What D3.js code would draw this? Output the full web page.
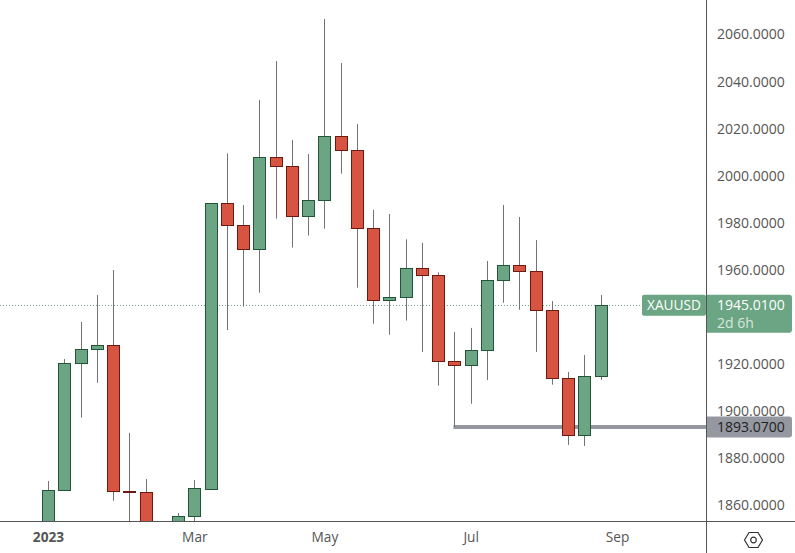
<!DOCTYPE html>
<html><head><meta charset="utf-8">
<script src="https://cdn.jsdelivr.net/npm/d3@7"></script>
<style>html,body{margin:0;padding:0;background:#fff;overflow:hidden}svg{display:block}text{font-family:"Open Sans",sans-serif}</style>
</head><body><svg id="c" width="795" height="553"></svg>
<script>
const weeks=["2023-01-02","2023-01-09","2023-01-16","2023-01-23","2023-01-30","2023-02-06","2023-02-13","2023-02-20","2023-02-27","2023-03-06","2023-03-13","2023-03-20","2023-03-27","2023-04-03","2023-04-10","2023-04-17","2023-04-24","2023-05-01","2023-05-08","2023-05-15","2023-05-22","2023-05-29","2023-06-05","2023-06-12","2023-06-19","2023-06-26","2023-07-03","2023-07-10","2023-07-17","2023-07-24","2023-07-31","2023-08-07","2023-08-14","2023-08-21","2023-08-28"];
const opens=[1824,1866.2,1920.2,1926.1,1927.8,1865.8,1865.4,1842,1811,1855.5,1867,1988.1,1978.8,1968.8,2007.6,2003.8,1982.6,1989.4,2016.6,2010.6,1977.5,1946.9,1948.2,1960.5,1957.5,1921.3,1919.3,1925.7,1955.4,1961.8,1959.2,1942.7,1913.8,1889.6,1914.6];
const highs=[1870.2,1922,1937.7,1949.2,1959.8,1890.6,1871,1846,1856.6,1870.6,1988.1,2009.3,1987.4,2032,2048.5,2015,2009,2066.4,2047.7,2021.8,1985.3,1983.6,1972.8,1971.3,1958.8,1933.5,1935.2,1963.6,1987.4,1982.3,1972.5,1946.6,1916.5,1923.7,1949.2];
const lows=[1820,1866.2,1897.1,1911.9,1861.8,1820,1835,1808,1805,1845,1867,1934.3,1944.2,1950.1,1981.6,1969.3,1974.4,1977.3,2000.7,1952.3,1937,1932.3,1938.3,1925,1910.7,1893.07,1903,1913.1,1945.9,1942.9,1925,1911.1,1885.5,1885.1,1913.1];
const closes=[1866.2,1920.2,1926.1,1927.8,1865.8,1865.4,1842,1811,1855.5,1867.1,1988.1,1978.8,1968.8,2007.6,2003.8,1982.6,1989.4,2016.6,2010.6,1977.5,1946.9,1948.2,1960.5,1957.5,1921.3,1919.3,1925.7,1955.4,1961.8,1959.2,1942.7,1913.8,1889.6,1914.6,1945.01];
const priceTickLabels=[1860,1880,1900,1920,1960,1980,2000,2020,2040,2060];
const timeTickIdx=[0,9,17,26,35];
const timeTickText=["2023","Mar","May","Jul","Sep"];
const lastPrice=1945.01, countdown="2d 6h", symbol="XAUUSD", levelPrice=1893.07, levelStartIdx=25;

const W=795,H=553,axisX=707,axisY=521;
const GREEN="#6ba583",GREENB="#225437",RED="#d75442",REDB="#6b1a0f",WICK="#737375",GREY="#9598a1",TXT="#555555";
const FS=13.7;
const svg=d3.select("#c");
const x=d3.scaleLinear().domain([0,35]).range([48,617]);
const y=d3.scaleLinear().domain([1860,2060]).range([505,34]);
const px=v=>Math.round(v)+.5;

svg.append("defs").append("clipPath").attr("id","plot").append("rect").attr("x",0).attr("y",0).attr("width",axisX).attr("height",axisY);
const plot=svg.append("g").attr("clip-path","url(#plot)");

plot.append("line").attr("x1",0).attr("x2",642).attr("y1",px(y(lastPrice))).attr("y2",px(y(lastPrice)))
  .attr("stroke",GREEN).attr("stroke-width",1).attr("stroke-dasharray","1 2");
plot.append("line").attr("x1",x(levelStartIdx)-1).attr("x2",axisX).attr("y1",y(levelPrice)).attr("y2",y(levelPrice))
  .attr("stroke",GREY).attr("stroke-width",4);

const rows=weeks.map((d,i)=>({i,o:opens[i],h:highs[i],l:lows[i],c:closes[i]}));
const g=plot.selectAll("g.k").data(rows).join("g").attr("class","k");
g.append("line").attr("x1",d=>px(x(d.i))).attr("x2",d=>px(x(d.i))).attr("y1",d=>y(d.h)).attr("y2",d=>y(d.l))
  .attr("stroke",WICK).attr("stroke-width",1);
g.append("rect")
  .attr("x",d=>px(x(d.i))-6).attr("width",12)
  .attr("y",d=>px(y(Math.max(d.o,d.c))))
  .attr("height",d=>Math.max(1,px(y(Math.min(d.o,d.c)))-px(y(Math.max(d.o,d.c)))))
  .attr("fill",d=>d.c>=d.o?GREEN:RED).attr("stroke",d=>d.c>=d.o?GREENB:REDB).attr("stroke-width",1);

svg.append("line").attr("x1",0).attr("x2",W).attr("y1",axisY+.5).attr("y2",axisY+.5).attr("stroke","#555").attr("stroke-width",1);
svg.append("line").attr("x1",axisX-.5).attr("x2",axisX-.5).attr("y1",0).attr("y2",H).attr("stroke","#555").attr("stroke-width",1);

const ya=svg.append("g").attr("transform",`translate(${axisX},0.5)`)
  .call(d3.axisRight(y).tickValues(priceTickLabels).tickSize(0).tickPadding(10).tickFormat(d3.format(".4f")));
ya.select(".domain").remove();
ya.selectAll("text").attr("font-size",14).attr("fill",TXT).style("font-family",'"Open Sans",sans-serif');

const xa=svg.append("g").attr("transform",`translate(0,${axisY})`)
  .call(d3.axisBottom(x).tickValues(timeTickIdx).tickSize(0).tickPadding(11).tickFormat((d,i)=>timeTickText[i]));
xa.select(".domain").remove();
xa.selectAll("text").attr("font-size",FS).attr("fill",TXT).style("font-family",'"Open Sans",sans-serif')
  .attr("font-weight",(d,i)=>i===0?700:400);

const ly=y(levelPrice);
svg.append("path").attr("d",`M${axisX},${ly-10.5}H789a3,3 0 0 1 3,3V${ly+7.5}a3,3 0 0 1 -3,3H${axisX}Z`).attr("fill",GREY);
svg.append("text").attr("x",717).attr("y",ly+5).attr("font-size",14).attr("fill","#222").text(d3.format(".4f")(levelPrice));

const py=y(lastPrice);
svg.append("path").attr("d",`M${axisX},${py-10}H789a3,3 0 0 1 3,3V${py+25}a3,3 0 0 1 -3,3H${axisX}Z`).attr("fill",GREEN);
svg.append("text").attr("x",717).attr("y",py+5).attr("font-size",14).attr("fill","#fff").text(d3.format(".4f")(lastPrice));
svg.append("text").attr("x",717).attr("y",py+23).attr("font-size",14).attr("fill","#d8e8de").text(countdown);
svg.append("rect").attr("x",642).attr("y",py-10).attr("width",64).attr("height",21).attr("rx",2).attr("fill",GREEN);
svg.append("text").attr("x",647).attr("y",py+5).attr("font-size",FS).attr("fill","#fff").text(symbol);

const ic=svg.append("g").attr("transform","translate(753.5,540)").attr("fill","none").attr("stroke","#333").attr("stroke-width",1.2);
ic.append("path").attr("d","M-9,0L-4.5,-7.5H4.5L9,0L4.5,7.5H-4.5Z");
ic.append("circle").attr("r",2.8);
</script></body></html>
